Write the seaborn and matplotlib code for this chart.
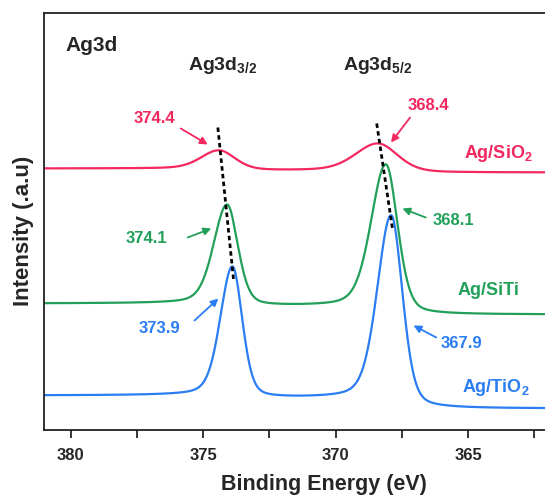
import numpy as np
import pandas as pd
import seaborn as sns
import matplotlib.pyplot as plt

sns.set_style("white")
plt.rcParams["font.family"] = ["Liberation Sans", "DejaVu Sans"]
plt.rcParams["mathtext.fontset"] = "custom"
plt.rcParams["mathtext.rm"] = "Liberation Sans:bold"
plt.rcParams["mathtext.it"] = "Liberation Sans:bold:italic"
plt.rcParams["mathtext.bf"] = "Liberation Sans:bold"
plt.rcParams["mathtext.default"] = "rm"

# Samples and fitted Ag 3d doublet parameters
samples = ["Ag/SiO$_2$", "Ag/SiTi", "Ag/TiO$_2$"]
colors = ["#F2285F", "#22A05A", "#2A7DF2"]
# baseline at the low binding-energy end (arbitrary units)
base_low = [257, 115, 21]
# Ag3d3/2 and Ag3d5/2 peak positions (eV)
center_32 = [374.4, 374.1, 373.9]
center_52 = [368.4, 368.1, 367.9]
# peak heights above baseline
height_32 = [19, 100, 130]
height_52 = [28, 146, 188]
# half widths at half maximum on the low / high binding-energy side (eV)
hw_low_32 = [0.72, 0.48, 0.44]
hw_high_32 = [0.80, 0.60, 0.54]
hw_low_52 = [0.88, 0.52, 0.50]
hw_high_52 = [1.00, 0.66, 0.62]
# Shirley-type background step across each peak
step_32 = [2, 3, 3]
step_52 = [2, 8, 10]

# Label placement for each series
label_x = [363.87, 364.23, 363.96]
label_y = [276, 139, 42]


def peak(x, c, h, hw_lo, hw_hi, eta=0.3):
    hw = np.where(x < c, hw_lo, hw_hi)
    u = (x - c) / hw
    g = np.exp(-np.log(2) * u ** 2)
    lor = 1.0 / (1.0 + u ** 2)
    return h * ((1 - eta) * g + eta * lor)


def step(x, c, w, a):
    return a * 0.5 * (1 + np.tanh((x - c) / (0.6 * w)))


energy = np.arange(361.0, 381.51, 0.02)
frames = []
for i, name in enumerate(samples):
    y = (base_low[i]
         + peak(energy, center_32[i], height_32[i], hw_low_32[i], hw_high_32[i])
         + peak(energy, center_52[i], height_52[i], hw_low_52[i], hw_high_52[i])
         + step(energy, center_32[i], 2 * hw_high_32[i], step_32[i])
         + step(energy, center_52[i], 2 * hw_high_52[i], step_52[i]))
    frames.append(pd.DataFrame({"energy": energy, "intensity": y, "sample": name}))
spectra = pd.concat(frames, ignore_index=True)

W, H = 545, 497
fig = plt.figure(figsize=(W / 100, H / 100), dpi=100)
ax = fig.add_axes([44 / W, (H - 429.5) / H, (547.5 - 44) / W, (429.5 - 12.5) / H])

sns.lineplot(data=spectra, x="energy", y="intensity", hue="sample",
             palette=dict(zip(samples, colors)), hue_order=samples,
             linewidth=1.6, legend=False, ax=ax, estimator=None, sort=True)

ax.set_xlim(381.016, 362.0)
ax.set_ylim(0, 417)
ax.set_yticks([])
ax.set_xticks([380, 375, 370, 365])
ax.set_xticks([377.5, 372.5, 367.5, 362.5], minor=True)
ax.tick_params(axis="x", which="both", direction="out", length=6, width=1.3,
               bottom=True, labelsize=12, pad=7.5)
for lab in ax.get_xticklabels():
    lab.set_fontweight("bold")
for sp in ax.spines.values():
    sp.set_linewidth(1.3)
    sp.set_color("#222222")

ax.set_xlabel("Binding Energy (eV)", fontsize=15.5, fontweight="bold", labelpad=9)
ax.xaxis.set_label_coords(0.556, -0.107)
ax.set_ylabel("Intensity (.a.u)", fontsize=16, fontweight="bold")
ax.yaxis.set_label_coords(-0.02, 0.476)

# Peak-shift guide lines through the top of each doublet component
peak_32 = [base_low[i] + height_32[i] + step_32[i] + step_52[i] for i in range(3)]
peak_52 = [base_low[i] + height_52[i] + step_52[i] / 2 for i in range(3)]
ax.plot([center_32[0] + 0.05, center_32[2] - 0.05], [peak_32[0] + 22, peak_32[2] - 16],
        color="black", linestyle=(0, (1.6, 1.2)), linewidth=2.0)
ax.plot([center_52[0] + 0.05, center_52[2] - 0.05], [peak_52[0] + 20, peak_52[2] - 14],
        color="black", linestyle=(0, (1.6, 1.2)), linewidth=2.0)

# Sample labels
for i, name in enumerate(samples):
    ax.text(label_x[i], label_y[i], name, color=colors[i],
            fontsize=13, fontweight="bold", ha="center", va="center")

ax.text(380.21, 384, "Ag3d", fontsize=15, fontweight="bold", ha="left", va="center")
ax.text(375.59, 364, "Ag3d$_{3/2}$", fontsize=14, fontweight="bold", ha="left", va="center")
ax.text(369.71, 364, "Ag3d$_{5/2}$", fontsize=14, fontweight="bold", ha="left", va="center")

# Binding-energy values with arrows pointing at each peak
ann = [
    (center_32[0], 0, (376.86, 311), (375.85, 301), (374.83, 285)),
    (center_52[0], 0, (366.51, 324), (367.19, 312), (367.91, 287)),
    (center_32[1], 1, (377.13, 191), (375.59, 192), (374.70, 201)),
    (center_52[1], 1, (365.55, 209), (366.60, 212), (367.48, 221)),
    (center_32[2], 2, (376.64, 101), (375.33, 109), (374.43, 131)),
    (center_52[2], 2, (365.26, 86), (366.20, 92), (367.06, 104)),
]
for val, i, txt_xy, tail_xy, tip_xy in ann:
    ax.text(*txt_xy, f"{val:.1f}", color=colors[i], fontsize=12,
            fontweight="bold", ha="center", va="center")
    ax.annotate("", xy=tip_xy, xytext=tail_xy,
                arrowprops=dict(arrowstyle="-|>", lw=1.3, mutation_scale=11,
                                color=colors[i], shrinkA=0, shrinkB=0))

fig.savefig("out.png", dpi=100)
